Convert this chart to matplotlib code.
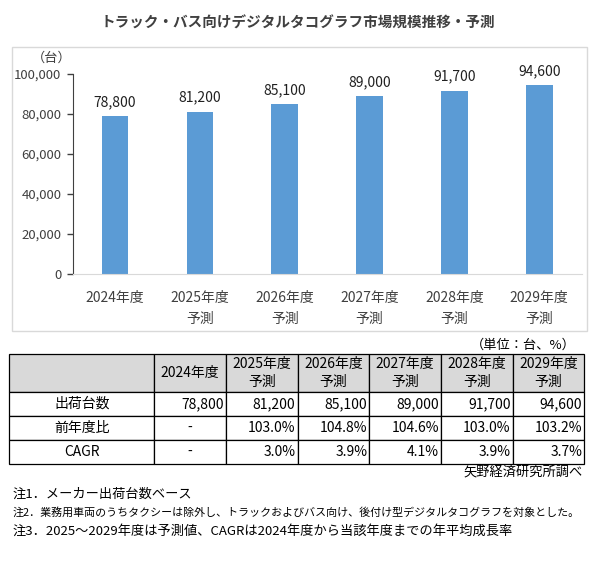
import matplotlib
matplotlib.use("Agg")
import matplotlib.pyplot as plt
from matplotlib.patches import Rectangle
from matplotlib.ticker import StrMethodFormatter

plt.rcParams['font.family'] = ['Noto Sans CJK JP', 'DejaVu Sans']

# data
years = ['2024年度', '2025年度', '2026年度', '2027年度', '2028年度', '2029年度']
forecast = [False, True, True, True, True, True]
shipments = [78800, 81200, 85100, 89000, 91700, 94600]
yoy = [None, 103.0, 104.8, 104.6, 103.0, 103.2]
cagr = [None, 3.0, 3.9, 4.1, 3.9, 3.7]
row_labels = ['出荷台数', '前年度比', 'CAGR']

title = 'トラック・バス向けデジタルタコグラフ市場規模推移・予測'
notes = ['注1．メーカー出荷台数ベース',
         '注2．業務用車両のうちタクシーは除外し、トラックおよびバス向け、後付け型デジタルタコグラフを対象とした。',
         '注3．2025～2029年度は予測値、CAGRは2024年度から当該年度までの年平均成長率']
note_sizes = [9.5, 7.9, 9.5]  # note 2 is long, the kana in this font are full width

W, H = 595, 564
fig = plt.figure(figsize=(W / 100, H / 100), dpi=100)

def fx(px):
    return px / W

def fy(py):
    return 1 - py / H

labels = [y + ('\n予測' if f else '') for y, f in zip(years, forecast)]

# chart frame
fig.patches.append(Rectangle((fx(11.7), fy(331)), fx(586.7) - fx(11.7), fy(47.3) - fy(331),
                             transform=fig.transFigure, fill=False, edgecolor='#d9d9d9', lw=1))
fig.text(fx(298), fy(23), title, ha='center', va='center', fontsize=10.5,
         fontweight='bold', color='#404040')

ax = fig.add_axes([fx(72.6), fy(274), fx(581.7) - fx(72.6), fy(74) - fy(274)])
x = list(range(len(years)))
bars = ax.bar(x, shipments, width=0.315, color='#5b9bd5', zorder=2)
ax.set_xlim(-0.5, len(years) - 0.5)
ax.set_ylim(0, 100000)
ax.set_yticks(range(0, 100001, 20000))
ax.yaxis.set_major_formatter(StrMethodFormatter('{x:,.0f}'))
ax.set_xticks(x)
ax.set_xticklabels(labels, linespacing=1.6, fontsize=10, color='#404040')
ax.tick_params(axis='x', length=0, pad=12.5)
ax.tick_params(axis='y', length=4, width=1, color='#404040', pad=4, labelsize=9.5,
               labelcolor='#404040')
for s in ['top', 'right']:
    ax.spines[s].set_visible(False)
ax.spines['left'].set_color('#404040')
ax.spines['bottom'].set_color('#d9d9d9')
for b, v in zip(bars, shipments):
    ax.annotate(f'{v:,}', (b.get_x() + b.get_width() / 2, v), xytext=(0, 5),
                textcoords='offset points', ha='center', va='bottom', fontsize=10,
                color='#202020')
fig.text(fx(72), fy(58), '（台）', ha='right', va='center', fontsize=9.5, color='#404040')

# table
fig.text(fx(576), fy(345), '（単位：台、%）', ha='right', va='center', fontsize=9.5)
tax = fig.add_axes([fx(9.3), fy(464), fx(584.3) - fx(9.3), fy(354) - fy(464)])
tax.axis('off')
cell_text = [[''] + labels]
cell_text.append([row_labels[0]] + [f'{v:,}' for v in shipments])
cell_text.append([row_labels[1]] + ['-' if v is None else f'{v:.1f}%' for v in yoy])
cell_text.append([row_labels[2]] + ['-' if v is None else f'{v:.1f}%' for v in cagr])
col_w = [145] + [71.67] * len(years)
tbl = tax.table(cellText=cell_text, colWidths=[w / sum(col_w) for w in col_w],
                bbox=[0, 0, 1, 1], cellLoc='center')
tbl.auto_set_font_size(False)
tbl.set_fontsize(10)
row_h = [38, 24, 24, 24]
for (r, c), cell in tbl.get_celld().items():
    cell.set_height(row_h[r])
    cell.set_edgecolor('black')
    cell.set_linewidth(0.9)
    t = cell.get_text()
    t.set_linespacing(1.4)
    if r == 0:
        cell.set_facecolor('#d9d9d9')
    elif c > 0 and t.get_text() != '-':
        cell._loc = 'right'
        cell.PAD = 0.03
        t.set_ha('right')
fig.text(fx(583), fy(473), '矢野経済研究所調べ', ha='right', va='center', fontsize=9.5)

for i, n in enumerate(notes):
    fig.text(fx(12.7), fy(494 + i * 18.5), n, ha='left', va='center', fontsize=note_sizes[i])

fig.savefig('out.png', dpi=100)
